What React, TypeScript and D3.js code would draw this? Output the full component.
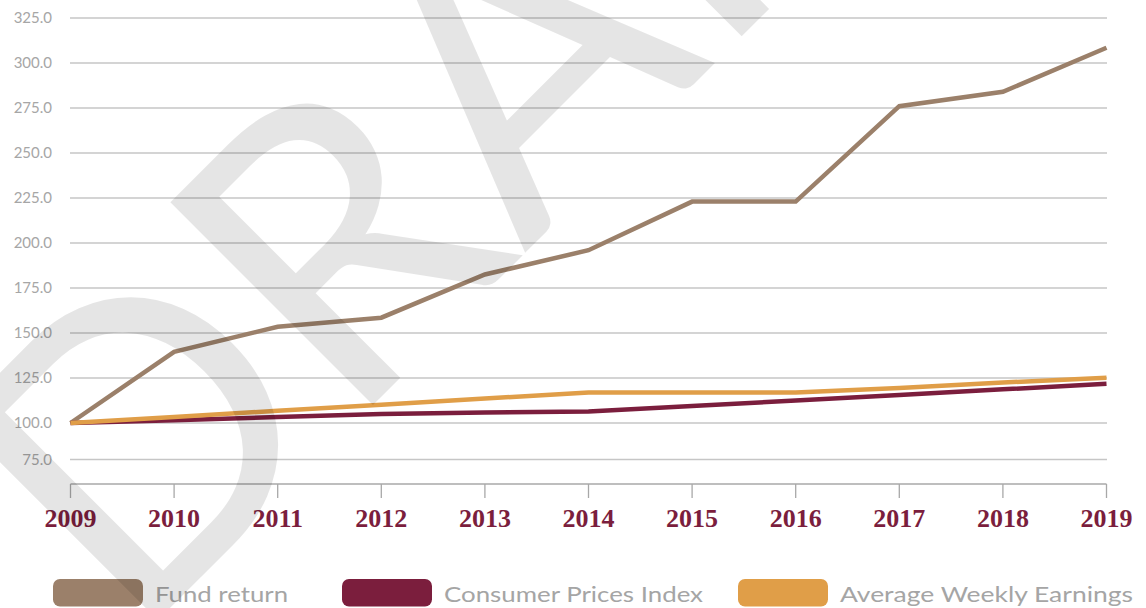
import React from "react";
import * as d3 from "d3";

const years = [2009, 2010, 2011, 2012, 2013, 2014, 2015, 2016, 2017, 2018, 2019];
const fundReturn = [100, 139.5, 153.5, 158.5, 182.5, 196, 223, 223, 276, 284, 308.5];
const consumerPrices = [100, 101.5, 103.3, 105, 105.8, 106.4, 109.4, 112.5, 115.6, 118.7, 121.8];
const weeklyEarnings = [100, 103.4, 106.8, 110.2, 113.6, 117, 117, 117, 119.5, 122.5, 125.2];
const yTicks = [75, 100, 125, 150, 175, 200, 225, 250, 275, 300, 325];
const seriesNames = ["Fund return", "Consumer Prices Index", "Average Weekly Earnings"];
const seriesColors = ["#9b806a", "#7b1e3d", "#e09e48"];

const W = 1146;
const H = 608;

export default function App() {
  const x = d3.scaleLinear().domain([2009, 2019]).range([70.5, 1106.5]);
  const y = d3.scaleLinear().domain([61, 75, 100, 325]).range([484, 459.5, 423, 18]);
  const axisY = y(61);

  const line = d3
    .line<number>()
    .x((_, i) => x(years[i]))
    .y((d) => y(d));

  const series = [fundReturn, consumerPrices, weeklyEarnings];

  const legendX = [53, 342, 738];
  const legendTextLen = [133, 259, 293];

  // watermark anchor on rotated baseline
  const wmX = 132;
  const wmY = 646;

  return (
    <svg
      width={W}
      height={H}
      style={{ position: "absolute", left: 0, top: 0, display: "block", background: "#fff" }}
    >
      {/* gridlines */}
      {yTicks.map((t) => (
        <line key={t} x1={70} x2={1107} y1={y(t)} y2={y(t)} stroke="#c6c6c6" strokeWidth={1.3} />
      ))}
      {/* y labels */}
      {yTicks.map((t) => (
        <text
          key={"l" + t}
          x={52}
          y={y(t)}
          dy="0.35em"
          textAnchor="end"
          fontFamily="Lato"
          fontSize={15}
          fill="#a6a6a6"
        >
          {d3.format(".1f")(t)}
        </text>
      ))}
      {/* x axis */}
      <line x1={x(2009)} x2={x(2019)} y1={axisY} y2={axisY} stroke="#a8a8a8" strokeWidth={1.3} />
      {years.map((yr) => (
        <g key={yr}>
          <line x1={x(yr)} x2={x(yr)} y1={axisY} y2={axisY + 14} stroke="#a8a8a8" strokeWidth={1.3} />
          <text
            x={x(yr)}
            y={527}
            textAnchor="middle"
            fontFamily="Liberation Serif"
            fontWeight="bold"
            fontSize={26}
            fill="#7b1e3d"
          >
            {yr}
          </text>
        </g>
      ))}
      {/* lines */}
      {series.map((s, i) => (
        <path
          key={i}
          d={line(s) || ""}
          fill="none"
          stroke={seriesColors[i]}
          strokeWidth={4.5}
          strokeLinejoin="miter"
          strokeLinecap="butt"
        />
      ))}
      {/* legend */}
      {seriesNames.map((n, i) => (
        <g key={n}>
          <rect x={legendX[i]} y={579} width={90} height={27.5} rx={7} fill={seriesColors[i]} />
          <text
            x={legendX[i] + 102}
            y={602}
            fontFamily="Lato"
            fontSize={22}
            fill="#a5a5a5"
            textLength={legendTextLen[i]}
            lengthAdjust="spacingAndGlyphs"
          >
            {n}
          </text>
        </g>
      ))}
      {/* watermark */}
      <text
        x={wmX}
        y={wmY}
        transform={`rotate(-45 ${wmX} ${wmY})`}
        fontFamily="Lato"
        fontSize={400}
        fill="#000"
        fillOpacity={0.1}
      >
        DRAFT
      </text>
    </svg>
  );
}
